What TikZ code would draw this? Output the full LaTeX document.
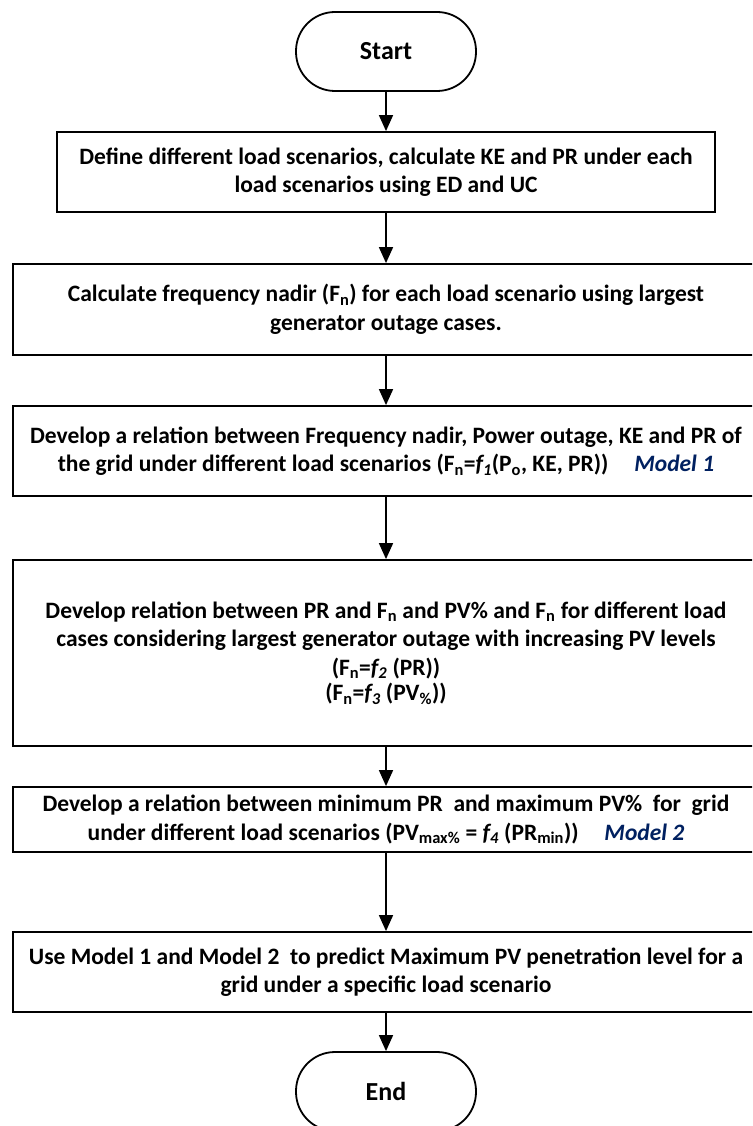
\documentclass[tikz,border=0pt]{standalone}
\usepackage{fontspec}
\setmainfont{Carlito}
\usetikzlibrary{arrows.meta}
\definecolor{modelblue}{RGB}{0,32,96}
\newcommand{\sub}[1]{\textsubscript{#1}}
\newcommand{\modeltag}[1]{\textcolor{modelblue}{\textit{#1}}}
\begin{document}
\begin{tikzpicture}[x=1pt,y=-1pt,line width=1.8pt,font=\fontsize{23.5}{28.5}\selectfont\bfseries,
	procbox/.style={draw,align=center,inner sep=0pt,minimum width=746pt},
	terminal/.style={draw,rounded corners=39pt,minimum width=180pt,minimum height=79pt,inner sep=0pt},
	flow/.style={-{Triangle[length=16pt,width=14pt]},line width=1.6pt}]
	\useasboundingbox (0,0) rectangle (752,1126);
	\clip (0,0) rectangle (752,1126);
	%\draw[step=50,gray!20,line width=0.4pt] (0,0) grid (752,1126); %Hilfsgitter
	\node[terminal] (start) at (386,51.5) {\fontsize{26}{30}\selectfont Start};
	\node[procbox,minimum width=658pt,minimum height=80pt] (define) at (386,172) {Define different load scenarios, calculate KE and PR under each\\ load scenarios using ED and UC};
	\node[procbox,minimum height=91pt] (nadir) at (386,309.5) {Calculate frequency nadir (F\sub{n}) for each load scenario using largest\\ generator outage cases.};
	\node[procbox,minimum height=90pt] (model1) at (386,451) {Develop a relation between Frequency nadir, Power outage, KE and PR of\\ the grid under different load scenarios (F\sub{n}=\textit{f\sub{1}}(P\sub{o}, KE, PR))\hspace{1.1em}\modeltag{Model 1}};
	\node[procbox,minimum height=186pt] (relation) at (386,653) {Develop relation between PR and F\sub{n} and PV\% and F\sub{n} for different load\\ cases considering largest generator outage with increasing PV levels\\ (F\sub{n}=\textit{f\sub{2}} (PR))\\[-3pt] (F\sub{n}=\textit{f\sub{3}} (PV\sub{\%}))};
	\node[procbox,minimum height=65pt] (model2) at (386,819.5) {Develop a relation between minimum PR\ \ and maximum PV\%\ \ for\ \ grid\\ under different load scenarios (PV\sub{max\%} = \textit{f\sub{4}} (PR\sub{min}))\hspace{1.1em}\modeltag{Model 2}};
	\node[procbox,minimum height=80pt] (predict) at (386,972) {Use Model 1 and Model 2\ \ to predict Maximum PV penetration level for a\\ grid under a specific load scenario};
	\node[terminal] (stop) at (386,1091.5) {\fontsize{26}{30}\selectfont End};
	\draw[flow] (start) -- (define);
	\draw[flow] (define) -- (nadir);
	\draw[flow] (nadir) -- (model1);
	\draw[flow] (model1) -- (relation);
	\draw[flow] (relation) -- (model2);
	\draw[flow] (model2) -- (predict);
	\draw[flow] (predict) -- (stop);
\end{tikzpicture}
\end{document}
